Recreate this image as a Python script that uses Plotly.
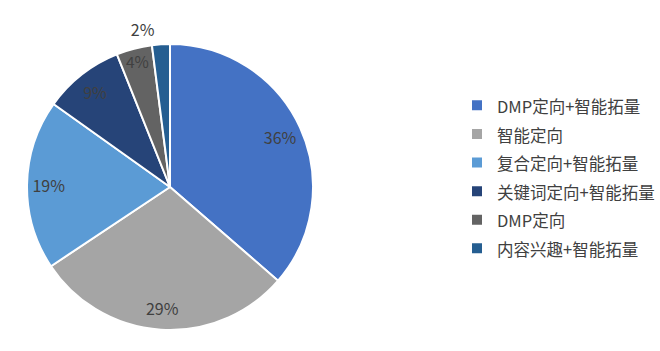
import plotly.graph_objects as go

labels = ["DMP定向+智能拓量", "智能定向", "复合定向+智能拓量", "关键词定向+智能拓量", "DMP定向", "内容兴趣+智能拓量"]
values = [36, 29, 19, 9, 4, 2]
pct_text = ["36%", "29%", "19%", "9%", "4%", "2%"]
colors = ["#4472C4", "#A5A5A5", "#5B9BD5", "#264478", "#636363", "#255E91"]
text_pos = ["inside", "inside", "inside", "inside", "inside", "outside"]

FONT = "Noto Sans CJK SC, Noto Sans, sans-serif"
TXT = "#404040"
domain = dict(x=[27/660, 313/660], y=[1-330/351, 1-44/351])
ring_domain = dict(x=[24/660, 316/660], y=[1-336/351, 1-38/351])

legend_labels = ['<span style="font-size:16.5px">%s</span>' % s for s in labels]

# main pie (slices + legend)
fig = go.Figure(go.Pie(
    labels=legend_labels,
    values=values,
    textinfo="none",
    sort=False,
    direction="clockwise",
    rotation=0,
    marker=dict(colors=colors, line=dict(color="white", width=2)),
    domain=domain,
    hovertemplate="%{customdata}: %{value}%<extra></extra>",
    customdata=labels,
))

# transparent ring overlay that carries the percentage labels near the rim
fig.add_trace(go.Pie(
    labels=legend_labels,
    values=values,
    text=pct_text,
    textinfo="text",
    textposition=text_pos,
    insidetextorientation="horizontal",
    sort=False,
    direction="clockwise",
    rotation=0,
    hole=0.66,
    showlegend=False,
    hoverinfo="skip",
    marker=dict(colors=["rgba(0,0,0,0)"] * len(values), line=dict(width=0)),
    textfont=dict(family=FONT, size=16, color=TXT),
    domain=ring_domain,
))

fig.update_layout(
    width=660, height=351,
    margin=dict(l=0, r=0, t=0, b=0, autoexpand=False),
    paper_bgcolor="white",
    plot_bgcolor="white",
    showlegend=True,
    legend=dict(
        x=457/660, y=1-86/351, xanchor="left", yanchor="top",
        font=dict(family=FONT, size=19.7, color=TXT),
        itemwidth=30,
        bgcolor="rgba(0,0,0,0)",
    ),
)

fig.write_html("out.html")
